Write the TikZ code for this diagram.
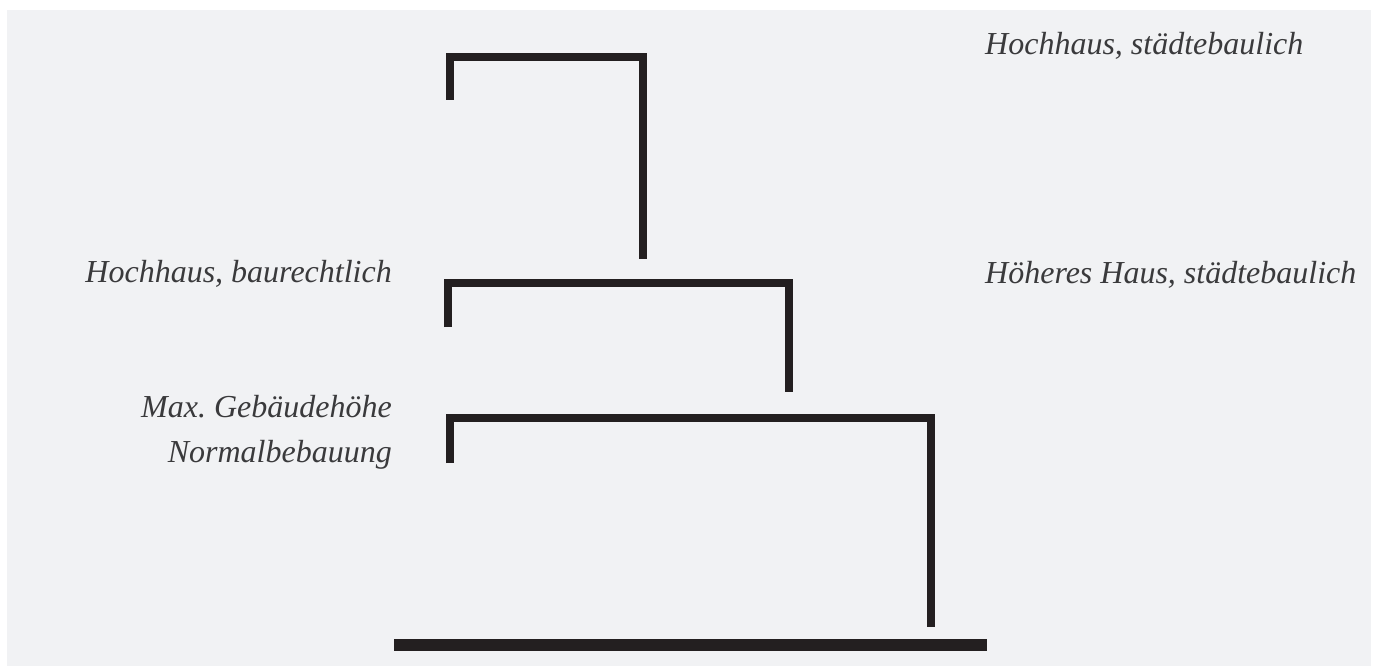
\documentclass[tikz,border=0pt]{standalone}
\usepackage{fontspec}
\setmainfont{Liberation Serif}
\frenchspacing
\definecolor{panel}{HTML}{F1F2F4}
\definecolor{ink}{HTML}{231F20}
\definecolor{txt}{HTML}{3A3A3C}
\begin{document}
\begin{tikzpicture}[x=1pt,y=-1pt,
  bracket/.style={draw=ink,line width=8pt,line join=miter},
  ground/.style={draw=ink,line width=11.5pt},
  lbl/.style={text=txt,font=\fontsize{32}{38}\selectfont\itshape,inner sep=0pt}]
\useasboundingbox (0,0) rectangle (1376,666);
\fill[panel] (7,10) rectangle (1371,666);

% height levels: three stepped brackets
\coordinate (a1) at (449.5,100);
\coordinate (a2) at (449.5,57);
\coordinate (a3) at (642.5,57);
\coordinate (a4) at (642.5,259);
\draw[bracket] (a1) -- (a2) -- (a3) -- (a4);

\coordinate (b1) at (448,327);
\coordinate (b2) at (448,282.5);
\coordinate (b3) at (788.5,282.5);
\coordinate (b4) at (788.5,392);
\draw[bracket] (b1) -- (b2) -- (b3) -- (b4);

\coordinate (c1) at (450,463);
\coordinate (c2) at (450,417.5);
\coordinate (c3) at (931,417.5);
\coordinate (c4) at (931,627);
\draw[bracket] (c1) -- (c2) -- (c3) -- (c4);

% ground line
\coordinate (g1) at (394,645);
\coordinate (g2) at (987,645);
\draw[ground] (g1) -- (g2);

% labels
\node[lbl,anchor=base west] (hs) at (985,55) {Hochhaus, städtebaulich};
\node[lbl,anchor=base west] (hh) at (985,283) {Höheres Haus, städtebaulich};
\node[lbl,anchor=base east] (hb) at (392,282) {Hochhaus, baurechtlich};
\node[lbl,anchor=base east] (mg) at (392,417) {Max. Gebäudehöhe};
\node[lbl,anchor=base east] (nb) at (392,462) {Normalbebauung};
\end{tikzpicture}
\end{document}
